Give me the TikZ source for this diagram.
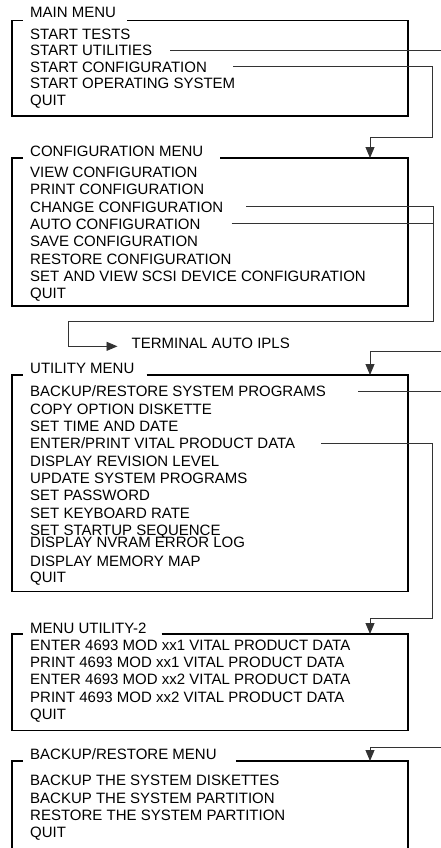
\documentclass[tikz,border=0pt]{standalone}
\usepackage{fontspec}
\setmainfont{Liberation Sans}
\usetikzlibrary{arrows.meta, positioning, matrix, calc}

\begin{document}
\begin{tikzpicture}[x=1pt, y=-1pt,
    frame/.style={draw=black, line width=1.3pt},
    link/.style={draw=black!80, line width=0.9pt},
    arrow/.style={link, -{Triangle[width=9pt, length=11pt]}},
    title/.style={anchor=base west, inner sep=0pt, font=\fontsize{15}{17}\selectfont},
    item/.style={anchor=base west, inner sep=0pt, text height=11pt, text depth=0pt, font=\fontsize{15}{17}\selectfont},
    menu/.style={matrix of nodes, nodes={item}, inner sep=0pt, row sep=6.3pt, anchor=north west}
]
    \clip (0,0) rectangle (441,848);

    % Main menu
    \node[title] (main-title) at (30,17.3) {MAIN MENU};
    \matrix[menu, row sep=5.6pt] (main) at (30,28) {
        START TESTS \\
        START UTILITIES \\
        START CONFIGURATION \\
        START OPERATING SYSTEM \\
        QUIT \\
    };
    \coordinate (main-nw) at (12,20.5);
    \coordinate (main-se) at (408,116);
    \draw[frame] ([xshift=11pt]main-title.east |- main-nw) -- (main-nw -| main-se) -- (main-se)
        -- (main-se -| main-nw) -- (main-nw) -- ([xshift=-7pt]main-title.west |- main-nw);

    % Configuration menu
    \node[title] (cfg-title) at (30,156.5) {CONFIGURATION MENU};
    \matrix[menu] (cfg) at (30,166.3) {
        VIEW CONFIGURATION \\
        PRINT CONFIGURATION \\
        CHANGE CONFIGURATION \\
        AUTO CONFIGURATION \\
        SAVE CONFIGURATION \\
        RESTORE CONFIGURATION \\
        SET AND VIEW SCSI DEVICE CONFIGURATION \\
        QUIT \\
    };
    \coordinate (cfg-nw) at (12,158);
    \coordinate (cfg-se) at (408,306);
    \draw[frame] ([xshift=17pt]cfg-title.east |- cfg-nw) -- (cfg-nw -| cfg-se) -- (cfg-se)
        -- (cfg-se -| cfg-nw) -- (cfg-nw) -- ([xshift=-7pt]cfg-title.west |- cfg-nw);

    % Terminal auto IPLs
    \node[title] (ipl) at (131.5,348.5) {TERMINAL AUTO IPLS};

    % Utility menu
    \node[title] (util-title) at (30,373.5) {UTILITY MENU};
    \matrix[menu] (util) at (30,385.7) {
        BACKUP/RESTORE SYSTEM PROGRAMS \\
        COPY OPTION DISKETTE \\
        SET TIME AND DATE \\
        ENTER/PRINT VITAL PRODUCT DATA \\
        DISPLAY REVISION LEVEL \\
        UPDATE SYSTEM PROGRAMS \\
        SET PASSWORD \\
        SET KEYBOARD RATE \\
        SET STARTUP SEQUENCE \\[-5.6pt]
        DISPLAY NVRAM ERROR LOG \\[1.7pt]
        DISPLAY MEMORY MAP \\[-1pt]
        QUIT \\
    };
    \coordinate (util-nw) at (12,375);
    \coordinate (util-se) at (408,591.7);
    \draw[frame] ([xshift=12pt]util-title.east |- util-nw) -- (util-nw -| util-se) -- (util-se)
        -- (util-se -| util-nw) -- (util-nw) -- ([xshift=-7pt]util-title.west |- util-nw);

    % Menu utility-2
    \node[title] (util2-title) at (30,633) {MENU UTILITY-2};
    \matrix[menu] (util2) at (30,639) {
        ENTER 4693 MOD xx1 VITAL PRODUCT DATA \\
        PRINT 4693 MOD xx1 VITAL PRODUCT DATA \\
        ENTER 4693 MOD xx2 VITAL PRODUCT DATA \\
        PRINT 4693 MOD xx2 VITAL PRODUCT DATA \\
        QUIT \\
    };
    \coordinate (util2-nw) at (12,634);
    \coordinate (util2-se) at (408,730.7);
    \draw[frame] ([xshift=15pt]util2-title.east |- util2-nw) -- (util2-nw -| util2-se) -- (util2-se)
        -- (util2-se -| util2-nw) -- (util2-nw) -- ([xshift=-7pt]util2-title.west |- util2-nw);

    % Backup/restore menu (runs off the bottom)
    \node[title] (bkp-title) at (30,759.5) {BACKUP/RESTORE MENU};
    \matrix[menu] (bkp) at (30,774.7) {
        BACKUP THE SYSTEM DISKETTES \\
        BACKUP THE SYSTEM PARTITION \\
        RESTORE THE SYSTEM PARTITION \\
        QUIT \\
    };
    \coordinate (bkp-nw) at (12,761);
    \coordinate (bkp-se) at (408,870);
    \draw[frame] ([xshift=19pt]bkp-title.east |- bkp-nw) -- (bkp-nw -| bkp-se) -- (bkp-se)
        -- (bkp-se -| bkp-nw) -- (bkp-nw) -- ([xshift=-7pt]bkp-title.west |- bkp-nw);

    % Start utilities -> utility menu (rail off the right edge)
    \coordinate (util-rail) at (450,351);
    \coordinate (util-in) at (370,375);
    \draw[arrow] ([xshift=18pt]main-2-1.east) -| (util-rail) -| (util-in);

    % Start configuration -> configuration menu
    \coordinate (cfg-rail) at (432,137);
    \coordinate (cfg-in) at (370,158);
    \draw[arrow] ([xshift=26pt]main-3-1.east) -| (cfg-rail) -| (cfg-in);

    % Change / auto configuration -> terminal auto IPLs
    \coordinate (ipl-rail) at (433,321);
    \coordinate (ipl-turn) at (68,321);
    \draw[arrow] ([xshift=23pt]cfg-3-1.east) -| (ipl-rail) -- (ipl-turn)
        |- ([xshift=-14pt, yshift=-3pt]ipl.west);
    \draw[link] ([xshift=31pt]cfg-4-1.east) -- (cfg-4-1.east -| ipl-rail);

    % Enter/print VPD -> menu utility-2
    \coordinate (util2-rail) at (432,618.3);
    \coordinate (util2-in) at (370,634);
    \draw[arrow] ([xshift=26pt]util-4-1.east) -| (util2-rail) -| (util2-in);

    % Backup/restore system programs -> backup/restore menu
    \coordinate (bkp-rail) at (450,747);
    \coordinate (bkp-in) at (370,761);
    \draw[arrow] ([xshift=32pt]util-1-1.east) -| (bkp-rail) -| (bkp-in);

\end{tikzpicture}
\end{document}
